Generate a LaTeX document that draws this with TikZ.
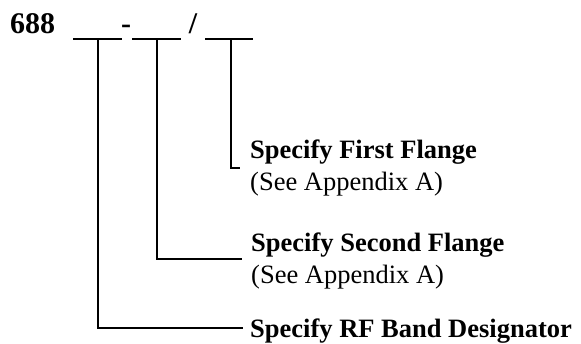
\documentclass[tikz,border=0pt]{standalone}
\usepackage{fontspec}
\setmainfont{Liberation Serif}
\usetikzlibrary{calc}
\begin{document}
\begin{tikzpicture}[x=1pt,y=-1pt,
  lead/.style={line width=2pt,line cap=butt},
  blank/.style={line width=2pt},
  big/.style={inner sep=0pt,font=\fontsize{30}{36}\selectfont\bfseries},
  lbl/.style={inner sep=0pt,anchor=base west,font=\fontsize{26.5}{32}\selectfont\bfseries},
  sub/.style={inner sep=0pt,anchor=base west,font=\fontsize{26.5}{32}\selectfont}]
\useasboundingbox (0,0) rectangle (581,343);
% header
\node[big,anchor=base west] (num) at (10,33) {688};
\node[big,anchor=base] (hy) at (126,33) {-};
\node[big,anchor=base] (sl) at (193,33) {/};
\coordinate (u1a) at (73,39);  \coordinate (u1b) at (122,39);
\coordinate (u2a) at (132,39); \coordinate (u2b) at (181,39);
\coordinate (u3a) at (205,39); \coordinate (u3b) at (253,39);
\draw[blank] (u1a) -- (u1b);
\draw[blank] (u2a) -- (u2b);
\draw[blank] (u3a) -- (u3b);
\coordinate (b1) at (98,39);
\coordinate (b2) at (157,39);
\coordinate (b3) at (231,39);
% labels
\node[lbl] (t1) at (250,158) {Specify First Flange};
\node[sub] (a1) at (250,190) {(See Appendix A)};
\node[lbl] (t2) at (251,251) {Specify Second Flange};
\node[sub] (a2) at (251,283) {(See Appendix A)};
\node[lbl] (t3) at (250,337) {Specify RF Band Designator};
% leaders
\draw[lead] (b3) |- ($(t1.base west)+(-10,10)$);
\draw[lead] (b2) |- ($(t2.base west)+(-9,8)$);
\draw[lead] (b1) |- ($(t3.base west)+(-7,-9)$);
\end{tikzpicture}
\end{document}
